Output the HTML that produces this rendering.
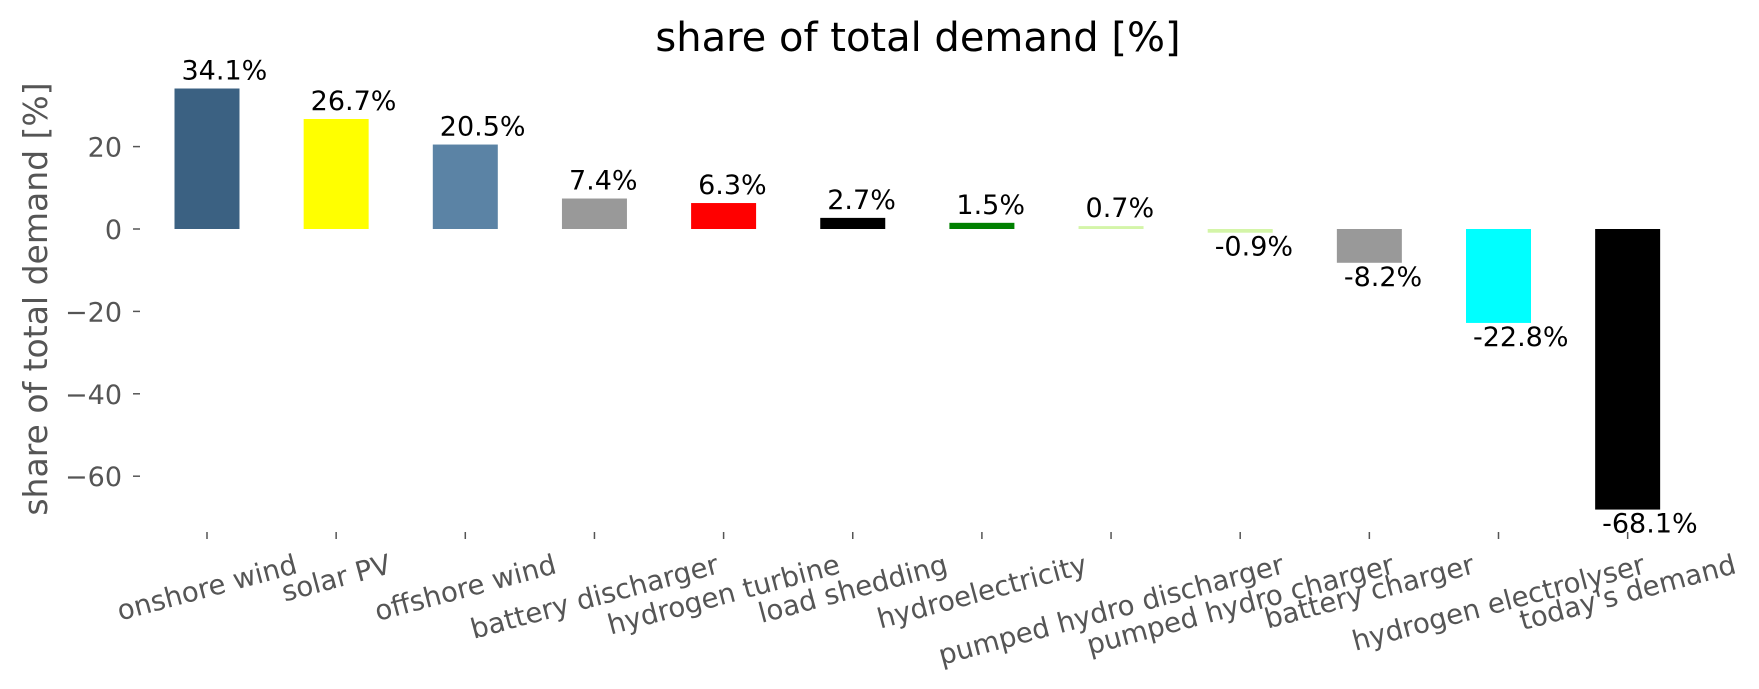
<!DOCTYPE html>
<html><head><meta charset="utf-8"><style>
html,body{margin:0;padding:0;background:#fff;}
svg{display:block;font-family:"DejaVu Sans","Liberation Sans",sans-serif;}
</style></head><body>
<svg id="s" width="1759" height="689" viewBox="0 0 1759 689" xmlns="http://www.w3.org/2000/svg">
<rect width="1759" height="689" fill="#fff"/>
<text x="918" y="51" font-size="40" text-anchor="middle" fill="#000">share of total demand [%]</text>
<text transform="translate(47,299) rotate(-90)" font-size="33" text-anchor="middle" fill="#555">share of total demand [%]</text>
</svg>
<script>
var s=document.getElementById('s'),NS='http://www.w3.org/2000/svg';
function el(t,a,txt){var e=document.createElementNS(NS,t);for(var k in a)e.setAttribute(k,a[k]);if(txt!==undefined)e.textContent=txt;s.appendChild(e);return e;}
var Z=229,K=4.12;
[20,0,-20,-40,-60].forEach(function(v){var y=Z-v*K;
 el('line',{x1:133,x2:140,y1:y,y2:y,stroke:'#555','stroke-width':1.5});
 el('text',{x:122,y:y+10,'font-size':27,'text-anchor':'end',fill:'#555'},(v<0?'\u2212'+(-v):''+v));});
var d=[["onshore wind",34.1,"#3b6182"],["solar PV",26.7,"#ffff00"],["offshore wind",20.5,"#5b83a5"],["battery discharger",7.4,"#999999"],["hydrogen turbine",6.3,"#ff0000"],["load shedding",2.7,"#000000"],["hydroelectricity",1.5,"#008000"],["pumped hydro discharger",0.7,"#d4f5a8"],["pumped hydro charger",-0.9,"#d4f5a8"],["battery charger",-8.2,"#999999"],["hydrogen electrolyser",-22.8,"#00ffff"],["today's demand",-68.1,"#000000"]];
d.forEach(function(r,i){var cx=207+129.15*i,l=cx-32.5,h=r[1]*K;
 var top=h>=0?Z-h:Z, hh=Math.abs(h);
 el('rect',{x:l,y:top,width:65,height:hh,fill:r[2]});
 var lab=r[1].toFixed(1)+'%';
 if(r[1]>=0) el('text',{x:l+7,y:Z-h-9,'font-size':27,fill:'#000'},lab);
 else el('text',{x:l+7,y:Z+hh+23,'font-size':27,fill:'#000'},lab);
 el('line',{x1:cx,x2:cx,y1:532,y2:539,stroke:'#555','stroke-width':1.5});
 var t=el('text',{x:0,y:0,'font-size':27.6,'text-anchor':'middle','dominant-baseline':'central',fill:'#555'},r[0]);
 var w=t.getComputedTextLength?t.getComputedTextLength():r[0].length*15;
 var H=w*Math.sin(15*Math.PI/180)+27.6*1.17*Math.cos(15*Math.PI/180);
 t.setAttribute('transform','translate('+cx+','+(548+H/2)+') rotate(-15)');
});
</script>
</body></html>
